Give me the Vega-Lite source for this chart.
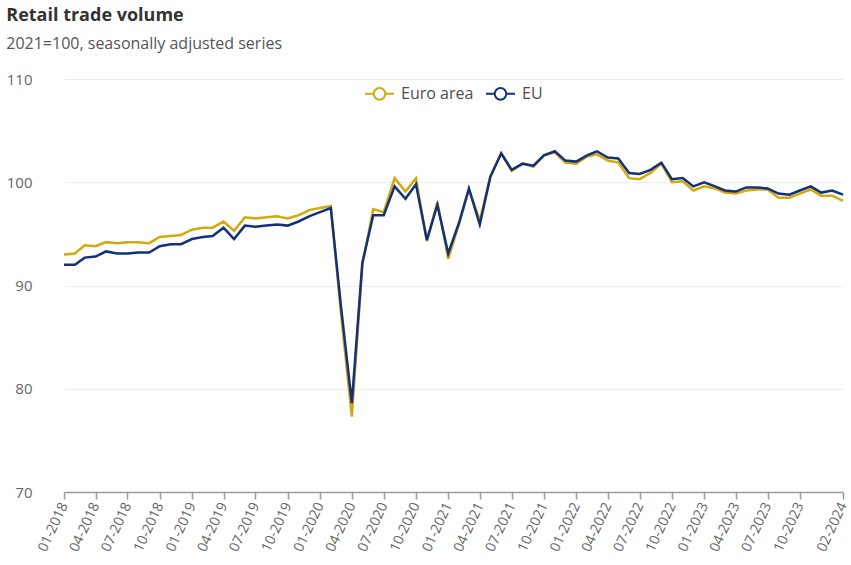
{
  "$schema": "https://vega.github.io/schema/vega-lite/v6.json",
  "width": 779,
  "height": 413,
  "padding": {"left": 6, "top": 7, "right": 8, "bottom": 0},
  "background": "white",
  "title": {
    "text": "Retail trade volume",
    "subtitle": "2021=100, seasonally adjusted series",
    "anchor": "start",
    "frame": "bounds",
    "font": "Open Sans",
    "fontSize": 18,
    "fontWeight": "bold",
    "color": "#333333",
    "subtitleFont": "Open Sans",
    "subtitleFontSize": 16,
    "subtitleColor": "#555555",
    "subtitlePadding": 11,
    "offset": 20
  },
  "config": {"view": {"stroke": null}},
  "data": {
    "values": [
      {"month": "2018-01-01", "Euro area": 93.0, "EU": 92.0},
      {"month": "2018-02-01", "Euro area": 93.1, "EU": 92.0},
      {"month": "2018-03-01", "Euro area": 93.9, "EU": 92.7},
      {"month": "2018-04-01", "Euro area": 93.8, "EU": 92.8},
      {"month": "2018-05-01", "Euro area": 94.2, "EU": 93.3},
      {"month": "2018-06-01", "Euro area": 94.1, "EU": 93.1},
      {"month": "2018-07-01", "Euro area": 94.2, "EU": 93.1},
      {"month": "2018-08-01", "Euro area": 94.2, "EU": 93.2},
      {"month": "2018-09-01", "Euro area": 94.1, "EU": 93.2},
      {"month": "2018-10-01", "Euro area": 94.7, "EU": 93.8},
      {"month": "2018-11-01", "Euro area": 94.8, "EU": 94.0},
      {"month": "2018-12-01", "Euro area": 94.9, "EU": 94.0},
      {"month": "2019-01-01", "Euro area": 95.4, "EU": 94.5},
      {"month": "2019-02-01", "Euro area": 95.6, "EU": 94.7},
      {"month": "2019-03-01", "Euro area": 95.6, "EU": 94.8},
      {"month": "2019-04-01", "Euro area": 96.2, "EU": 95.6},
      {"month": "2019-05-01", "Euro area": 95.3, "EU": 94.5},
      {"month": "2019-06-01", "Euro area": 96.6, "EU": 95.8},
      {"month": "2019-07-01", "Euro area": 96.5, "EU": 95.7},
      {"month": "2019-08-01", "Euro area": 96.6, "EU": 95.8},
      {"month": "2019-09-01", "Euro area": 96.7, "EU": 95.9},
      {"month": "2019-10-01", "Euro area": 96.5, "EU": 95.8},
      {"month": "2019-11-01", "Euro area": 96.8, "EU": 96.2},
      {"month": "2019-12-01", "Euro area": 97.3, "EU": 96.7},
      {"month": "2020-01-01", "Euro area": 97.5, "EU": 97.1},
      {"month": "2020-02-01", "Euro area": 97.7, "EU": 97.5},
      {"month": "2020-03-01", "Euro area": 87.3, "EU": 88.0},
      {"month": "2020-04-01", "Euro area": 77.3, "EU": 78.6},
      {"month": "2020-05-01", "Euro area": 92.0, "EU": 92.2},
      {"month": "2020-06-01", "Euro area": 97.4, "EU": 96.8},
      {"month": "2020-07-01", "Euro area": 97.1, "EU": 96.8},
      {"month": "2020-08-01", "Euro area": 100.4, "EU": 99.6},
      {"month": "2020-09-01", "Euro area": 99.1, "EU": 98.4},
      {"month": "2020-10-01", "Euro area": 100.4, "EU": 99.8},
      {"month": "2020-11-01", "Euro area": 94.3, "EU": 94.4},
      {"month": "2020-12-01", "Euro area": 98.1, "EU": 97.8},
      {"month": "2021-01-01", "Euro area": 92.6, "EU": 93.1},
      {"month": "2021-02-01", "Euro area": 96.0, "EU": 96.1},
      {"month": "2021-03-01", "Euro area": 99.3, "EU": 99.4},
      {"month": "2021-04-01", "Euro area": 96.3, "EU": 95.9},
      {"month": "2021-05-01", "Euro area": 100.6, "EU": 100.5},
      {"month": "2021-06-01", "Euro area": 102.8, "EU": 102.8},
      {"month": "2021-07-01", "Euro area": 101.1, "EU": 101.2},
      {"month": "2021-08-01", "Euro area": 101.8, "EU": 101.8},
      {"month": "2021-09-01", "Euro area": 101.5, "EU": 101.6},
      {"month": "2021-10-01", "Euro area": 102.6, "EU": 102.6},
      {"month": "2021-11-01", "Euro area": 102.9, "EU": 103.0},
      {"month": "2021-12-01", "Euro area": 101.9, "EU": 102.1},
      {"month": "2022-01-01", "Euro area": 101.8, "EU": 102.0},
      {"month": "2022-02-01", "Euro area": 102.5, "EU": 102.6},
      {"month": "2022-03-01", "Euro area": 102.7, "EU": 103.0},
      {"month": "2022-04-01", "Euro area": 102.1, "EU": 102.4},
      {"month": "2022-05-01", "Euro area": 101.9, "EU": 102.3},
      {"month": "2022-06-01", "Euro area": 100.4, "EU": 100.9},
      {"month": "2022-07-01", "Euro area": 100.3, "EU": 100.8},
      {"month": "2022-08-01", "Euro area": 100.9, "EU": 101.2},
      {"month": "2022-09-01", "Euro area": 101.8, "EU": 101.9},
      {"month": "2022-10-01", "Euro area": 100.0, "EU": 100.3},
      {"month": "2022-11-01", "Euro area": 100.1, "EU": 100.4},
      {"month": "2022-12-01", "Euro area": 99.2, "EU": 99.6},
      {"month": "2023-01-01", "Euro area": 99.6, "EU": 100.0},
      {"month": "2023-02-01", "Euro area": 99.4, "EU": 99.6},
      {"month": "2023-03-01", "Euro area": 99.0, "EU": 99.2},
      {"month": "2023-04-01", "Euro area": 98.9, "EU": 99.1},
      {"month": "2023-05-01", "Euro area": 99.2, "EU": 99.5},
      {"month": "2023-06-01", "Euro area": 99.3, "EU": 99.5},
      {"month": "2023-07-01", "Euro area": 99.3, "EU": 99.4},
      {"month": "2023-08-01", "Euro area": 98.5, "EU": 98.9},
      {"month": "2023-09-01", "Euro area": 98.5, "EU": 98.8},
      {"month": "2023-10-01", "Euro area": 98.9, "EU": 99.2},
      {"month": "2023-11-01", "Euro area": 99.3, "EU": 99.6},
      {"month": "2023-12-01", "Euro area": 98.7, "EU": 99.0},
      {"month": "2024-01-01", "Euro area": 98.7, "EU": 99.2},
      {"month": "2024-02-01", "Euro area": 98.2, "EU": 98.8}
    ]
  },
  "transform": [{"fold": ["Euro area", "EU"], "as": ["series", "value"]}],
  "mark": {"type": "line", "strokeWidth": 2.5},
  "encoding": {
    "x": {
      "field": "month",
      "type": "temporal",
      "scale": {
        "type": "utc",
        "domain": [
          {"year": 2018, "month": 1, "date": 1, "utc": true},
          {"year": 2024, "month": 2, "date": 1, "utc": true}
        ],
        "nice": false
      },
      "axis": {
        "title": null,
        "format": "%m-%Y",
        "values": [
          {"year": 2018, "month": 1, "date": 1, "utc": true},
          {"year": 2018, "month": 4, "date": 1, "utc": true},
          {"year": 2018, "month": 7, "date": 1, "utc": true},
          {"year": 2018, "month": 10, "date": 1, "utc": true},
          {"year": 2019, "month": 1, "date": 1, "utc": true},
          {"year": 2019, "month": 4, "date": 1, "utc": true},
          {"year": 2019, "month": 7, "date": 1, "utc": true},
          {"year": 2019, "month": 10, "date": 1, "utc": true},
          {"year": 2020, "month": 1, "date": 1, "utc": true},
          {"year": 2020, "month": 4, "date": 1, "utc": true},
          {"year": 2020, "month": 7, "date": 1, "utc": true},
          {"year": 2020, "month": 10, "date": 1, "utc": true},
          {"year": 2021, "month": 1, "date": 1, "utc": true},
          {"year": 2021, "month": 4, "date": 1, "utc": true},
          {"year": 2021, "month": 7, "date": 1, "utc": true},
          {"year": 2021, "month": 10, "date": 1, "utc": true},
          {"year": 2022, "month": 1, "date": 1, "utc": true},
          {"year": 2022, "month": 4, "date": 1, "utc": true},
          {"year": 2022, "month": 7, "date": 1, "utc": true},
          {"year": 2022, "month": 10, "date": 1, "utc": true},
          {"year": 2023, "month": 1, "date": 1, "utc": true},
          {"year": 2023, "month": 4, "date": 1, "utc": true},
          {"year": 2023, "month": 7, "date": 1, "utc": true},
          {"year": 2023, "month": 10, "date": 1, "utc": true},
          {"year": 2024, "month": 2, "date": 1, "utc": true}
        ],
        "labelAngle": -65,
        "labelAlign": "right",
        "labelBaseline": "middle",
        "labelFlush": false,
        "labelOverlap": false,
        "labelFont": "Open Sans",
        "labelFontSize": 14,
        "labelColor": "#666666",
        "labelPadding": 4,
        "domainColor": "#9a9a9a",
        "domainWidth": 1.5,
        "tickColor": "#9a9a9a",
        "tickWidth": 1.5,
        "tickSize": 7,
        "grid": false
      }
    },
    "y": {
      "field": "value",
      "type": "quantitative",
      "scale": {"domain": [70, 110], "nice": false, "zero": false},
      "axis": {
        "title": null,
        "values": [70, 80, 90, 100, 110],
        "domain": false,
        "ticks": false,
        "labelFlush": false,
        "labelPadding": 32,
        "labelFont": "Open Sans",
        "labelFontSize": 15,
        "labelColor": "#666666",
        "gridColor": "#e9edf2",
        "gridWidth": 1
      }
    },
    "color": {
      "field": "series",
      "type": "nominal",
      "scale": {"domain": ["Euro area", "EU"], "range": ["#D4A90C", "#13307A"]},
      "legend": {
        "title": null,
        "orient": "none",
        "direction": "horizontal",
        "legendX": 300,
        "legendY": -1,
        "symbolType": "M-1,0H-0.4M0.4,0H1M-0.4,0A0.4,0.4,0,1,1,0.4,0A0.4,0.4,0,1,1,-0.4,0Z",
        "symbolSize": 841,
        "symbolStrokeWidth": 2,
        "symbolFillColor": "#ffffff",
        "labelFont": "Open Sans",
        "labelFontSize": 16,
        "labelColor": "#4d4d4d",
        "labelOffset": 6,
        "columnPadding": 8
      }
    }
  }
}
